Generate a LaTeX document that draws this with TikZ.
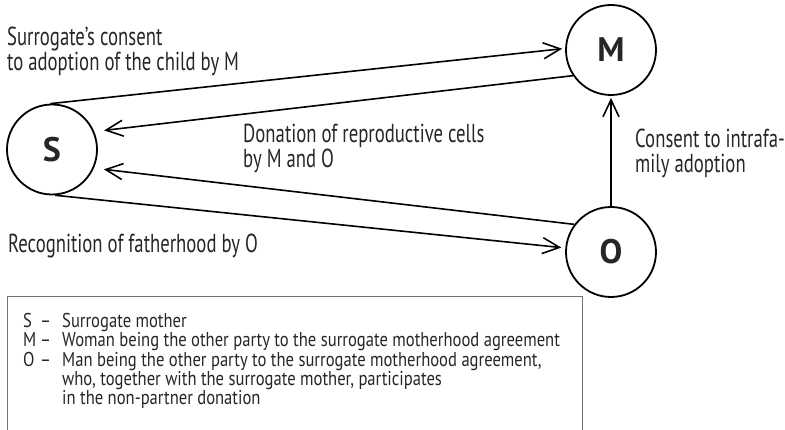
\documentclass[tikz,border=0pt]{standalone}
\usepackage{fontspec}
\setmainfont[FakeStretch=0.72]{PT Sans}
\newfontfamily\lettfont{PT Sans}
\newfontfamily\legfont[FakeStretch=0.83]{PT Sans}
\usetikzlibrary{arrows.meta}
\begin{document}
\begin{tikzpicture}[x=1pt,y=-1pt,
  party/.style={circle,draw=black,line width=1.8pt,minimum size=90pt,inner sep=0pt,
    font=\lettfont\bfseries\fontsize{34}{34}\selectfont,text=black!85},
  lab/.style={font=\fontsize{26}{25.5}\selectfont,align=left,inner sep=0pt,anchor=base west,text=black!85},
  leg/.style={font=\legfont\fontsize{20}{17.5}\selectfont,inner sep=0pt,anchor=north west,text=black!85},
  conn/.style={line width=1.6pt,draw=black},
  arr/.style={conn,-{Straight Barb[length=17pt,width=16pt,line width=1.6pt]}}]
\useasboundingbox (0,0) rectangle (785,430);
\node[party] (S) at (52,149.5) {S};
\node[party] (M) at (611,50) {M};
\node[party] (O) at (611,252) {O};
% connectors
\draw[arr,shorten >=3pt] (S.92) -- (M.178);
\draw[arr,shorten >=10pt] (M.214) -- (S.23);
\draw[arr,shorten >=10pt] (O.143) -- (S.-24);
\draw[arr,shorten >=4pt] (S.-86) -- (O.175);
\draw[arr,shorten >=2pt] (O.north) -- (M.south);
% labels (anchor = baseline of the last line)
\node[lab] (t1) at (7,71) {Surrogate’s consent\\to adoption of the child by M};
\node[lab] (t2) at (243,168) {Donation of reproductive cells\\by M and O};
\node[lab] (t3) at (635,173) {Consent to intrafa-\\mily adoption};
\node[lab] (t4) at (8,253) {Recognition of fatherhood by O};
% legend
\draw[draw=black!55,line width=0.8pt] (7,431) -- (7,296) -- (582,296) -- (582,431);
\node[leg] (key) at (23,312.75) {\begin{tabular}{@{}p{17pt}@{}p{22pt}@{}l@{}}
S & – & Surrogate mother\\
M & – & Woman being the other party to the surrogate motherhood agreement\\
O & – & Man being the other party to the surrogate motherhood agreement,\\
  &   & who, together with the surrogate mother, participates\\
  &   & in the non-partner donation
\end{tabular}};
\end{tikzpicture}
\end{document}
